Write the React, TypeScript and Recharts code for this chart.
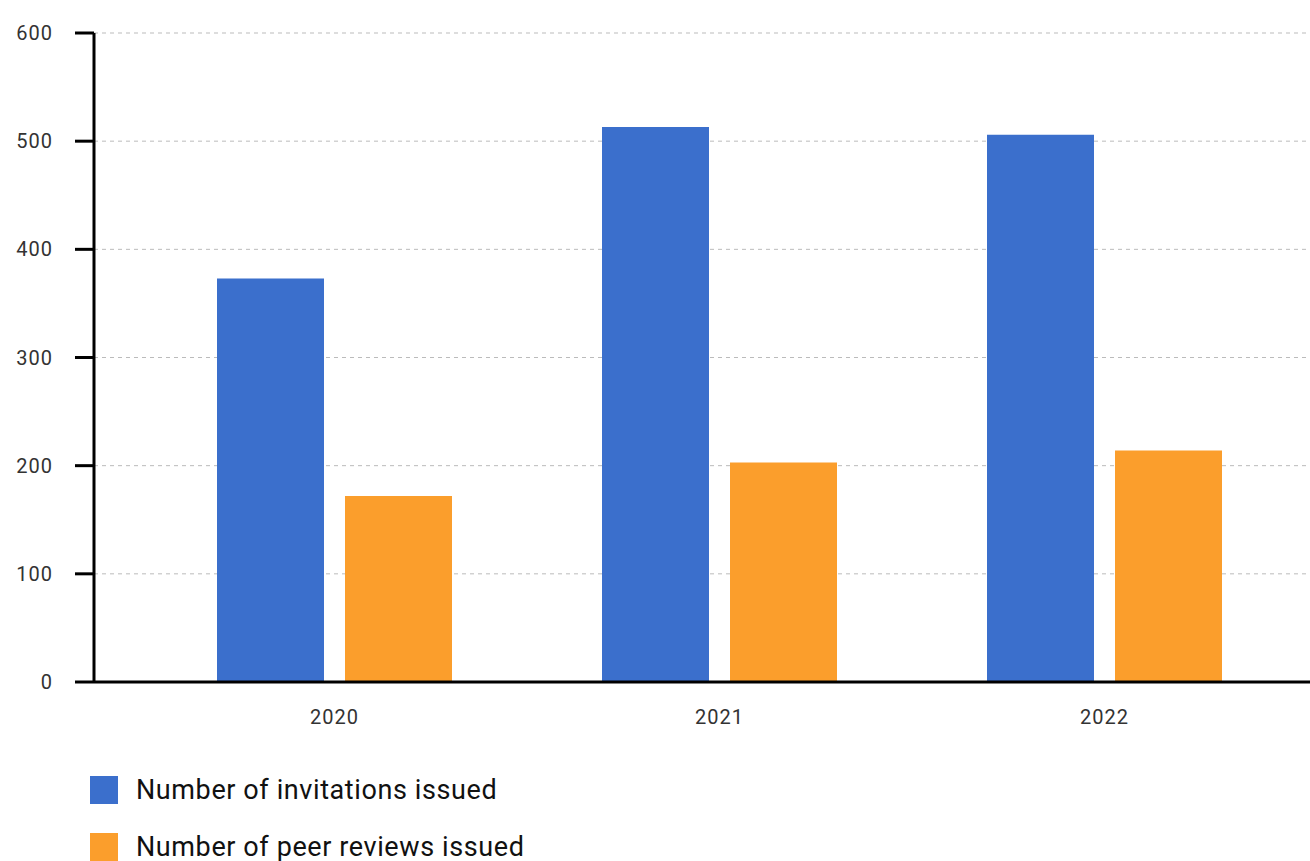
import { BarChart, Bar, XAxis, YAxis, CartesianGrid, Legend } from 'recharts';

const years = ['2020', '2021', '2022'];
const invitations = [373, 513, 506];
const peerReviews = [172, 203, 214];
const yTicks = [0, 100, 200, 300, 400, 500, 600];

const BLUE = '#3B6FCC';
const ORANGE = '#FB9E2C';

const data = years.map((year, i) => ({
  year,
  invitations: invitations[i],
  peerReviews: peerReviews[i],
}));

const legendItems = [
  { label: 'Number of invitations issued', color: BLUE },
  { label: 'Number of peer reviews issued', color: ORANGE },
];

const tickStyle = {
  fill: '#333',
  fontSize: 20,
  fontFamily: 'Roboto, sans-serif',
  letterSpacing: 1,
};

function ChartLegend() {
  return (
    <div>
      {legendItems.map((item, i) => (
        <div
          key={item.label}
          style={{
            display: 'flex',
            alignItems: 'center',
            height: 28,
            marginBottom: i === 0 ? 29 : 0,
          }}
        >
          <div style={{ width: 28, height: 28, background: item.color }} />
          <span
            style={{
              marginLeft: 18,
              fontFamily: 'Roboto, sans-serif',
              fontSize: 27,
              letterSpacing: 0.6,
              color: '#111',
              lineHeight: '28px',
              whiteSpace: 'nowrap',
            }}
          >
            {item.label}
          </span>
        </div>
      ))}
    </div>
  );
}

export default function App() {
  return (
    <div style={{ position: 'fixed', left: 0, top: 0, width: 1310, height: 861, overflow: 'hidden', background: '#fff' }}>
      <div style={{ position: 'absolute', left: 8, top: 8 }}>
        <BarChart
          width={1302}
          height={853}
          data={data}
          margin={{ top: 25, right: 0, bottom: 54, left: 0 }}
          barGap={21}
          barSize={107}
        >
          <CartesianGrid vertical={false} stroke="#bbb" strokeDasharray="4 4" />
          <XAxis
            dataKey="year"
            height={40}
            padding={{ left: 48, right: 13 }}
            axisLine={{ stroke: '#000', strokeWidth: 3 }}
            tickLine={false}
            tick={tickStyle}
            tickMargin={22}
          />
          <YAxis
            width={86}
            domain={[0, 600]}
            ticks={yTicks}
            axisLine={{ stroke: '#000', strokeWidth: 3 }}
            tickLine={{ stroke: '#000', strokeWidth: 3 }}
            tickSize={19}
            tickMargin={22}
            tick={tickStyle}
          />
          <Legend
            verticalAlign="bottom"
            height={85}
            content={<ChartLegend />}
            wrapperStyle={{
              top: 768,
              left: 82,
              bottom: 'auto',
              width: 700,
              height: 85,
            }}
          />
          <Bar dataKey="invitations" fill={BLUE} isAnimationActive={false} />
          <Bar dataKey="peerReviews" fill={ORANGE} isAnimationActive={false} />
        </BarChart>
      </div>
    </div>
  );
}
